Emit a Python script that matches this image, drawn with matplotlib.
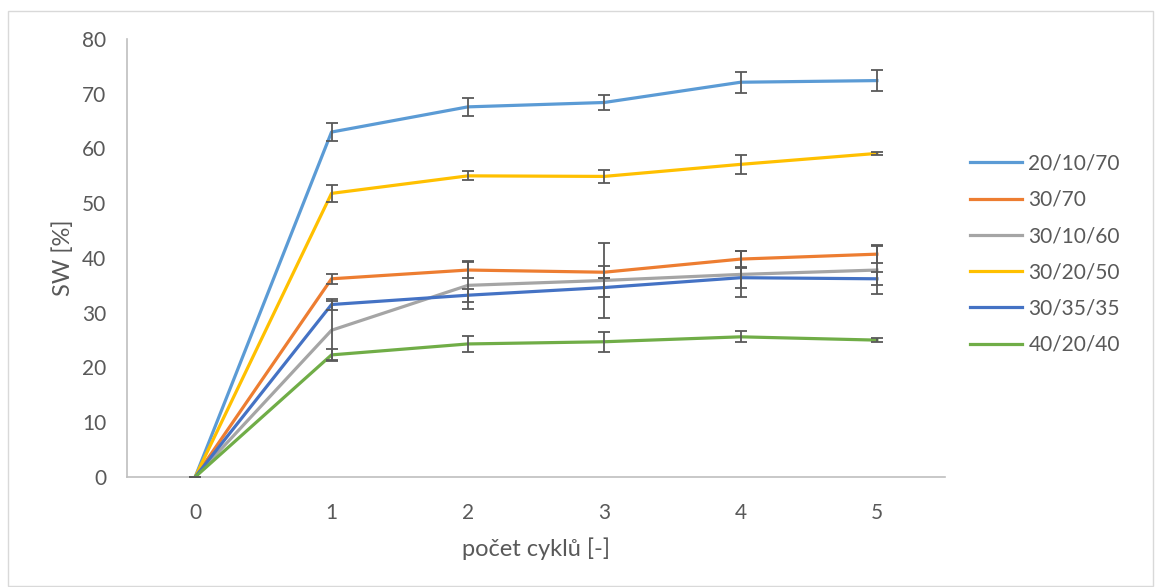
import matplotlib.pyplot as plt
from matplotlib.patches import Rectangle

plt.rcParams['font.family'] = ['Lato', 'DejaVu Sans']

cycles = [0, 1, 2, 3, 4, 5]
labels = ["20/10/70", "30/70", "30/10/60", "30/20/50", "30/35/35", "40/20/40"]
colors = ["#5B9BD5", "#ED7D31", "#A5A5A5", "#FFC000", "#4472C4", "#70AD47"]

sw_20_10_70 = [0, 63.0, 67.6, 68.4, 72.1, 72.4]
sw_30_70 = [0, 36.2, 37.8, 37.4, 39.8, 40.7]
sw_30_10_60 = [0, 26.8, 35.0, 35.9, 37.0, 37.8]
sw_30_20_50 = [0, 51.8, 55.0, 54.9, 57.1, 59.1]
sw_30_35_35 = [0, 31.5, 33.2, 34.6, 36.4, 36.2]
sw_40_20_40 = [0, 22.3, 24.3, 24.7, 25.6, 25.0]

err_20_10_70 = [0, 1.7, 1.6, 1.4, 1.9, 1.9]
err_30_70 = [0, 0.9, 1.5, 1.1, 1.4, 1.6]
err_30_10_60 = [0, 5.4, 4.4, 6.9, 4.2, 4.3]
err_30_20_50 = [0, 1.6, 0.8, 1.2, 1.8, 0.3]
err_30_35_35 = [0, 1.0, 1.2, 1.8, 1.8, 1.2]
err_40_20_40 = [0, 1.1, 1.4, 1.8, 1.0, 0.4]

series = [sw_20_10_70, sw_30_70, sw_30_10_60, sw_30_20_50, sw_30_35_35, sw_40_20_40]
errors = [err_20_10_70, err_30_70, err_30_10_60, err_30_20_50, err_30_35_35, err_40_20_40]

fig = plt.figure(figsize=(11.62, 5.87), dpi=100)
fig.patches.append(Rectangle((8 / 1162, 0.002), 1145 / 1162, 1 - 11 / 587 - 0.002,
                             transform=fig.transFigure, fill=False,
                             edgecolor="#D9D9D9", linewidth=1))
ax = fig.add_axes([0.1093, 0.1874, 0.7040, 0.7462])

handles = []
for vals, err, lab, col in zip(series, errors, labels, colors):
    line, = ax.plot(cycles, vals, color=col, linewidth=2.3, label=lab, zorder=2)
    ax.errorbar(cycles, vals, yerr=err, fmt="none", ecolor="#595959",
                elinewidth=1.3, capsize=4.5, capthick=1.3, zorder=3)
    handles.append(line)

ax.set_xlim(-0.5, 5.5)
ax.set_ylim(0, 80)
ax.set_xticks(cycles)
ax.set_yticks(range(0, 81, 10))
for side in ["top", "right"]:
    ax.spines[side].set_visible(False)
for side in ["left", "bottom"]:
    ax.spines[side].set_color("#BFBFBF")
    ax.spines[side].set_linewidth(1.2)
ax.tick_params(axis="both", length=0, labelsize=15, labelcolor="#595959")
ax.tick_params(axis="y", pad=15)
ax.tick_params(axis="x", pad=19)

ax.set_xlabel("počet cyklů [-]", fontsize=17, color="#595959", labelpad=10)
ax.set_ylabel("SW [%]", fontsize=17, color="#595959", labelpad=6)

ax.legend(handles=handles, loc="upper left", bbox_to_anchor=(1.0306, 0.738),
          borderpad=0, borderaxespad=0, frameon=False, fontsize=15,
          labelcolor="#595959", handlelength=2.5, handletextpad=0.3,
          labelspacing=0.78)

fig.savefig("out.png", dpi=100)
